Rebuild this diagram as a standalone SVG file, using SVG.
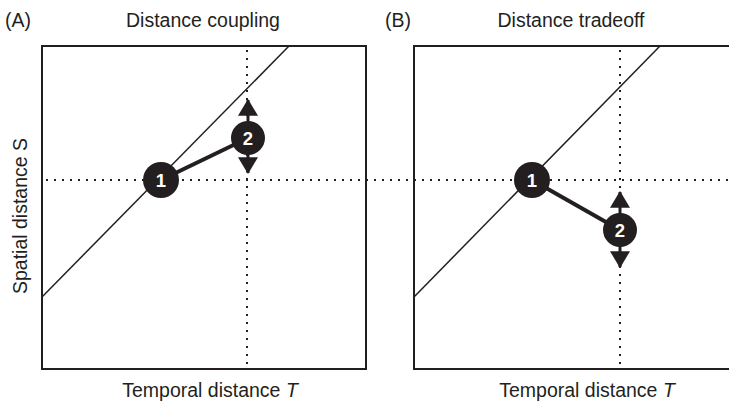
<svg xmlns="http://www.w3.org/2000/svg" width="729" height="404" viewBox="0 0 729 404">
<style>
text{font-family:"Liberation Sans",Arial,sans-serif;fill:#231f20}
.lbl{font-size:19.5px}
.frame{fill:none;stroke:#231f20;stroke-width:2}
.diag{stroke:#231f20;stroke-width:1.5;fill:none}
.dot{stroke:#231f20;stroke-width:2;stroke-dasharray:2 6;fill:none}
.link{stroke:#231f20;stroke-width:4;fill:none}
.arr{stroke:#231f20;stroke-width:3;fill:none}
.node circle{fill:#231f20}
.node text{fill:#fff;font-weight:bold;font-size:18.5px;text-anchor:middle}
</style>
<defs>
<marker id="ah" markerUnits="userSpaceOnUse" markerWidth="20" markerHeight="20" viewBox="0 0 16 19" refX="15" refY="9.5" orient="auto">
<path d="M0,0 L16,9.5 L0,19 Z" fill="#231f20"/>
</marker>
</defs>
<g id="titles">
<text class="lbl" x="5" y="27">(A)</text>
<text class="lbl" x="203" y="27" text-anchor="middle">Distance coupling</text>
<text class="lbl" x="385" y="27">(B)</text>
<text class="lbl" x="571" y="27" text-anchor="middle">Distance tradeoff</text>
<text class="lbl" x="210" y="397" text-anchor="middle">Temporal distance <tspan font-style="italic">T</tspan></text>
<text class="lbl" x="587" y="397" text-anchor="middle">Temporal distance <tspan font-style="italic">T</tspan></text>
<text class="lbl" transform="translate(27,216) rotate(-90)" text-anchor="middle">Spatial distance S</text>
</g>
<g id="panels">
<rect class="frame" x="42" y="46" width="324" height="323"/>
<rect class="frame" x="414" y="46" width="330" height="323"/>
<line class="diag" x1="42" y1="297" x2="289" y2="46"/>
<line class="diag" x1="414" y1="297" x2="660" y2="46"/>
<line class="dot" x1="46" y1="180" x2="729" y2="180"/>
<line class="dot" x1="247" y1="50" x2="247" y2="368"/>
<line class="dot" x1="620" y1="50" x2="620" y2="368"/>
</g>
<g id="connectors">
<line class="link" x1="161" y1="180" x2="248" y2="138"/>
<line class="link" x1="532" y1="180" x2="620" y2="230"/>
<line class="arr" x1="248" y1="124" x2="248" y2="100" marker-end="url(#ah)"/>
<line class="arr" x1="248" y1="152" x2="248" y2="173" marker-end="url(#ah)"/>
<line class="arr" x1="620" y1="216" x2="620" y2="192" marker-end="url(#ah)"/>
<line class="arr" x1="620" y1="244" x2="620" y2="267" marker-end="url(#ah)"/>
</g>
<g id="nodeA1" class="node"><circle cx="161" cy="180" r="18"/><text x="161" y="186.5">1</text></g>
<g id="nodeA2" class="node"><circle cx="248" cy="138" r="17"/><text x="248" y="144.5">2</text></g>
<g id="nodeB1" class="node"><circle cx="532" cy="180" r="18"/><text x="532" y="186.5">1</text></g>
<g id="nodeB2" class="node"><circle cx="620" cy="230" r="17"/><text x="620" y="236.5">2</text></g>
</svg>
